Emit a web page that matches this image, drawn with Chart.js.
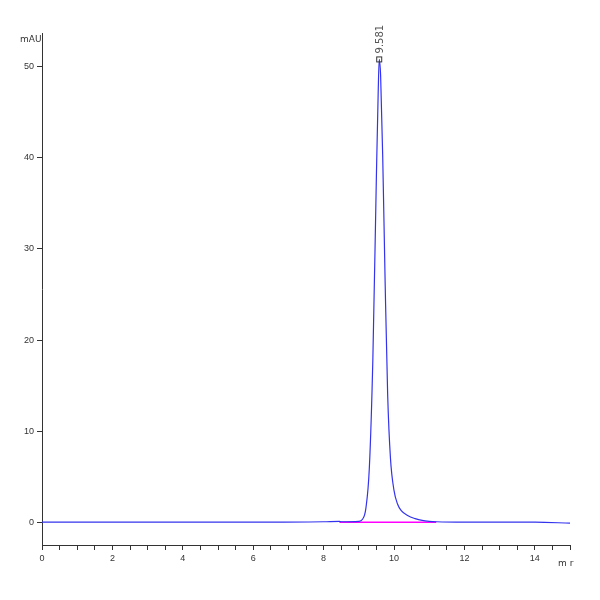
<!DOCTYPE html>
<html><head><script src="https://cdn.jsdelivr.net/npm/chart.js@4"></script>
<style>body{margin:0;background:#fff}</style></head><body>
<canvas id="c" width="600" height="600"></canvas>
<script>
const timeMin = [0,2,4,6,8,8.45,8.5,9.0,9.1,9.2,9.3,9.4,9.5,9.55,9.58,9.62,9.68,9.75,9.82,9.9,10.0,10.1,10.2,10.4,10.6,10.8,11.0,11.2,12,13,14,15];
const signalmAU = [0,0,0,0,0.05,0.1,0.05,0.1,0.3,1.5,6,18,38,47,50.8,49,40,26,14,7,3.5,2,1.3,0.7,0.4,0.2,0.1,0.05,0,0,0,-0.1];
const baselineX = [8.45,11.2];
const baselineY = [0,0];
const peakLabel = '9.581';
const xTickLabels = [0,2,4,6,8,10,12,14];
const yTickLabels = [0,10,20,30,40,50];

const txt = {id:'txt',afterDraw(ch){
  const c=ch.ctx,x=ch.scales.x,y=ch.scales.y;
  c.save();c.fillStyle='#333';c.font='9px "DejaVu Sans"';
  c.fillText('mAU',20,42);
  c.fillText('m r',558,566);
  const px=x.getPixelForValue(9.58),py=y.getPixelForValue(50.8);
  c.strokeStyle='#333';c.strokeRect(px-2.5,py-2.5,5,5);
  c.translate(px+4,py-6);c.rotate(-Math.PI/2);c.fillStyle='#555';c.font='10px "DejaVu Sans"';
  c.fillText(peakLabel,0,0);c.restore();
}};
new Chart(document.getElementById('c'),{type:'scatter',
data:{datasets:[
 {data:timeMin.map((t,i)=>({x:t,y:signalmAU[i]})),showLine:true,borderColor:'#3333ee',borderWidth:1.2,pointRadius:0,cubicInterpolationMode:'monotone'},
 {data:baselineX.map((t,i)=>({x:t,y:baselineY[i]})),showLine:true,borderColor:'#ff00ff',borderWidth:1.5,pointRadius:0}
]},
plugins:[txt],
options:{animation:false,responsive:false,maintainAspectRatio:false,
 layout:{padding:{top:33,right:30,left:0,bottom:0}},
 plugins:{legend:{display:false},tooltip:{enabled:false}},
 scales:{
  x:{type:'linear',min:0,max:15,afterFit(s){s.height=55;},
   grid:{display:true,drawOnChartArea:false,tickLength:5,color:'#333'},border:{color:'#333'},
   ticks:{stepSize:0.5,autoSkip:false,maxRotation:0,color:'#333',font:{size:9},
     callback:v=>xTickLabels.includes(v)?String(v):''}},
  y:{min:-2.5,max:53.7,afterFit(s){s.width=42;},
   afterBuildTicks(s){s.ticks=yTickLabels.map(v=>({value:v}));},
   grid:{display:true,drawOnChartArea:false,tickLength:5,color:'#333'},border:{color:'#333'},
   ticks:{autoSkip:false,color:'#333',font:{size:9},callback:v=>String(v)}}
 }}});
</script></body></html>
